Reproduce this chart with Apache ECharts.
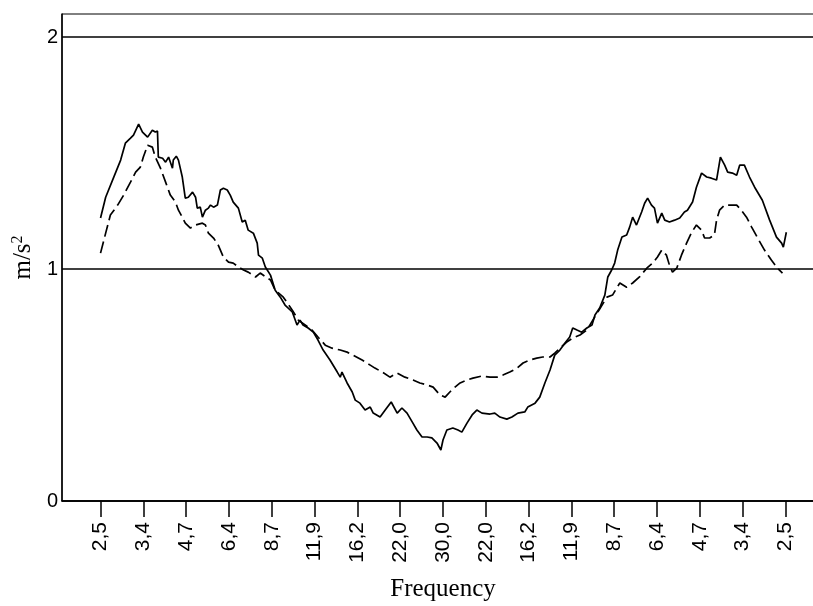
<!DOCTYPE html>
<html>
<head>
<meta charset="utf-8">
<script src="https://cdn.jsdelivr.net/npm/echarts@6/dist/echarts.min.js"></script>
<style>html,body{margin:0;padding:0;background:#fff;}#c{width:813px;height:606px;}</style>
</head>
<body>
<div id="c"></div>
<script>
// Tick labels along the frequency axis (positions 0..16)
const tickLabels = ['2,5','3,4','4,7','6,4','8,7','11,9','16,2','22,0','30,0','22,0','16,2','11,9','8,7','6,4','4,7','3,4','2,5'];
const tickPositions = [0,1,2,3,4,5,6,7,8,9,10,11,12,13,14,15,16];
const yTicks = [0,1,2];

// Solid series [position, m/s^2]
const solidSeries = [
[0.00,1.220],[0.12,1.310],[0.30,1.392],[0.47,1.470],[0.58,1.543],[0.70,1.565],[0.77,1.578],[0.89,1.625],
[0.98,1.591],[1.10,1.569],[1.21,1.599],[1.28,1.591],[1.33,1.595],[1.35,1.483],[1.45,1.478],[1.52,1.461],
[1.59,1.483],[1.68,1.435],[1.70,1.470],[1.77,1.487],[1.82,1.470],[1.91,1.397],[1.98,1.306],[2.05,1.310],
[2.15,1.332],[2.22,1.310],[2.26,1.263],[2.33,1.267],[2.38,1.224],[2.45,1.254],[2.52,1.263],[2.57,1.276],
[2.64,1.267],[2.73,1.276],[2.80,1.341],[2.87,1.349],[2.96,1.341],[3.03,1.319],[3.10,1.289],[3.22,1.263],
[3.31,1.203],[3.38,1.211],[3.45,1.168],[3.57,1.155],[3.66,1.112],[3.69,1.060],[3.78,1.047],[3.85,1.009],
[3.97,0.974],[4.08,0.909],[4.20,0.879],[4.31,0.845],[4.48,0.815],[4.59,0.759],[4.66,0.780],[4.73,0.759],
[4.85,0.746],[4.97,0.728],[5.08,0.694],[5.20,0.651],[5.36,0.608],[5.53,0.556],[5.60,0.534],[5.64,0.556],
[5.76,0.509],[5.88,0.470],[5.95,0.435],[6.06,0.422],[6.18,0.392],[6.30,0.405],[6.37,0.379],[6.53,0.362],
[6.65,0.392],[6.79,0.427],[6.93,0.379],[7.04,0.401],[7.16,0.379],[7.28,0.341],[7.39,0.306],[7.51,0.276],
[7.63,0.276],[7.74,0.272],[7.86,0.250],[7.95,0.220],[8.00,0.263],[8.09,0.306],[8.23,0.315],[8.35,0.306],
[8.44,0.297],[8.56,0.336],[8.68,0.371],[8.79,0.392],[8.91,0.379],[9.10,0.375],[9.21,0.379],[9.33,0.362],
[9.49,0.353],[9.61,0.362],[9.75,0.379],[9.91,0.384],[9.98,0.405],[10.15,0.422],[10.26,0.448],[10.38,0.509],
[10.50,0.565],[10.61,0.629],[10.73,0.651],[10.85,0.681],[10.96,0.707],[11.03,0.746],[11.13,0.737],[11.24,0.728],
[11.36,0.746],[11.48,0.759],[11.55,0.802],[11.66,0.832],[11.78,0.888],[11.85,0.966],[11.94,0.996],[12.01,1.026],
[12.08,1.082],[12.18,1.138],[12.29,1.147],[12.36,1.181],[12.43,1.224],[12.52,1.190],[12.64,1.246],[12.71,1.284],
[12.78,1.306],[12.87,1.276],[12.94,1.263],[13.01,1.198],[13.11,1.241],[13.18,1.211],[13.29,1.203],[13.41,1.211],
[13.53,1.220],[13.64,1.246],[13.71,1.254],[13.83,1.289],[13.92,1.353],[14.04,1.414],[14.16,1.397],[14.27,1.392],
[14.39,1.384],[14.48,1.483],[14.58,1.448],[14.65,1.418],[14.76,1.414],[14.86,1.405],[14.93,1.448],[15.04,1.448],
[15.16,1.397],[15.28,1.353],[15.46,1.297],[15.63,1.211],[15.79,1.138],[15.91,1.112],[15.95,1.095],[16.02,1.159]
];

// Dashed series [position, m/s^2]
const dashedSeries = [
[0.00,1.069],[0.12,1.155],[0.23,1.233],[0.40,1.276],[0.54,1.319],[0.70,1.375],[0.82,1.418],[0.93,1.440],
[1.00,1.483],[1.10,1.534],[1.21,1.526],[1.28,1.483],[1.40,1.435],[1.52,1.375],[1.63,1.319],[1.75,1.289],
[1.82,1.254],[1.91,1.224],[1.98,1.198],[2.10,1.177],[2.22,1.190],[2.38,1.198],[2.45,1.190],[2.52,1.155],
[2.64,1.134],[2.75,1.103],[2.87,1.052],[2.99,1.030],[3.10,1.026],[3.22,1.009],[3.34,0.996],[3.45,0.987],
[3.62,0.966],[3.73,0.983],[3.90,0.961],[3.97,0.953],[4.08,0.909],[4.27,0.879],[4.48,0.823],[4.62,0.780],
[4.78,0.759],[4.94,0.737],[5.08,0.707],[5.25,0.672],[5.41,0.659],[5.60,0.651],[5.76,0.642],[5.90,0.629],
[6.11,0.608],[6.30,0.586],[6.41,0.573],[6.58,0.556],[6.76,0.534],[6.93,0.552],[7.11,0.534],[7.30,0.522],
[7.46,0.509],[7.63,0.500],[7.77,0.491],[7.93,0.457],[8.05,0.448],[8.16,0.470],[8.28,0.491],[8.40,0.509],
[8.56,0.522],[8.70,0.530],[8.91,0.539],[9.10,0.534],[9.26,0.534],[9.40,0.543],[9.56,0.556],[9.73,0.573],
[9.87,0.595],[10.03,0.608],[10.19,0.616],[10.33,0.621],[10.50,0.621],[10.61,0.638],[10.73,0.659],[10.89,0.685],
[11.03,0.703],[11.20,0.716],[11.36,0.737],[11.50,0.780],[11.66,0.828],[11.83,0.879],[11.96,0.888],[12.13,0.940],
[12.29,0.922],[12.43,0.940],[12.59,0.966],[12.76,1.004],[12.90,1.026],[13.01,1.052],[13.11,1.082],[13.22,1.060],
[13.29,1.017],[13.36,0.987],[13.46,1.004],[13.57,1.060],[13.69,1.112],[13.81,1.159],[13.92,1.190],[14.04,1.168],
[14.11,1.134],[14.23,1.134],[14.34,1.147],[14.39,1.211],[14.46,1.254],[14.58,1.276],[14.74,1.276],[14.86,1.276],
[14.97,1.254],[15.09,1.224],[15.21,1.181],[15.35,1.134],[15.51,1.082],[15.67,1.039],[15.81,1.004],[15.93,0.983]
];

const chart = echarts.init(document.getElementById('c'), null, {renderer: 'canvas'});
chart.setOption({
  animation: false,
  backgroundColor: '#fff',
  grid: {left: 62, top: 14, width: 762, height: 487, show: true, borderColor: '#000', borderWidth: 1,
    backgroundColor: 'transparent', containLabel: false, outerBoundsMode: 'none'},
  xAxis: {
    type: 'value', min: -0.9, max: 16.9,
    name: 'Frequency', nameLocation: 'middle', nameGap: 76,
    nameTextStyle: {fontFamily: 'Liberation Serif', fontSize: 25, color: '#000'},
    axisLine: {show: true, onZero: false, lineStyle: {color: '#000', width: 1.5}},
    axisTick: {show: true, customValues: tickPositions, length: 16, lineStyle: {color: '#000', width: 1.5}},
    axisLabel: {show: true, customValues: tickPositions, rotate: 90, margin: 21,
      fontFamily: 'Liberation Sans', fontSize: 21, color: '#000',
      formatter: function (v) { return tickLabels[Math.round(v)]; }},
    splitLine: {show: false}
  },
  yAxis: {
    type: 'value', min: 0, max: 2.1,
    name: '{b|m/s}{sup|2}', nameLocation: 'middle', nameGap: 24,
    nameTextStyle: {fontFamily: 'Liberation Serif', fontSize: 25, color: '#000',
      rich: {
        b: {fontFamily: 'Liberation Serif', fontSize: 25, color: '#000'},
        sup: {fontFamily: 'Liberation Serif', fontSize: 16, color: '#000', verticalAlign: 'top', padding: [0,0,12,0]}
      }},
    axisLine: {show: true, onZero: false, lineStyle: {color: '#000', width: 1.5}},
    axisTick: {show: false, customValues: yTicks},
    axisLabel: {show: true, customValues: yTicks, margin: 4, fontFamily: 'Liberation Sans', fontSize: 20, color: '#000',
      formatter: function (v) { return String(Math.round(v)); }},
    splitLine: {show: true, customValues: yTicks, lineStyle: {color: '#000', width: 1.5}}
  },
  series: [
    {type: 'line', data: solidSeries, showSymbol: false, symbol: 'none', smooth: false,
     lineStyle: {color: '#000', width: 1.7, type: 'solid'}},
    {type: 'line', data: dashedSeries, showSymbol: false, symbol: 'none', smooth: false,
     lineStyle: {color: '#000', width: 1.7, type: [12, 5]}}
  ]
});
</script>
</body>
</html>
